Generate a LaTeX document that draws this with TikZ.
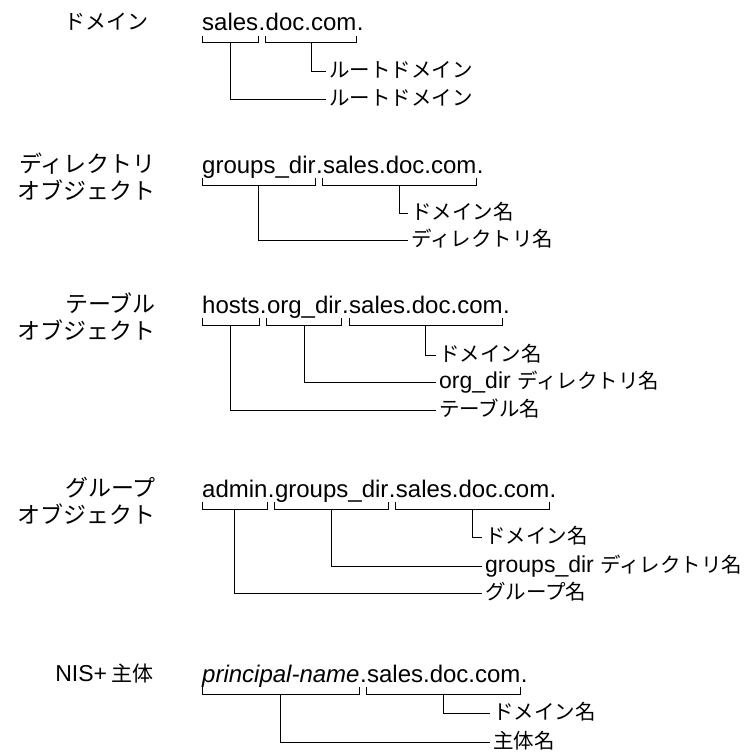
\documentclass[tikz,border=0pt]{standalone}
\usepackage{fontspec}
\setmainfont{Liberation Sans}
\newfontfamily\jpfont{Noto Sans CJK JP}
\usetikzlibrary{positioning}
\tikzset{
    word/.style = {inner sep=0pt, anchor=base west, font=\fontsize{24}{26}\selectfont},
    side/.style = {inner sep=0pt, anchor=base east, font=\jpfont\fontsize{23}{24}\selectfont},
    sides/.style = {side, font=\jpfont\fontsize{21}{24}\selectfont},
    lbl/.style = {inner sep=3pt, anchor=base west, text height=14pt, text depth=2pt, font=\fontsize{23}{24}\selectfont},
    brk/.style = {line width=1pt, black},
    conn/.style = {line width=1pt, black},
}
% japanese part of a label
\newcommand{\ja}[1]{{\jpfont\fontsize{20.5}{24}\selectfont #1}}
% bracket under one part of a name
\newcommand{\brk}[1]{%
  \draw[brk] ([yshift=-5pt]#1.base west) -- ([yshift=-12pt]#1.base west)
    -- ([yshift=-12pt]#1.base east) -- ([yshift=-5pt]#1.base east);
  \coordinate (#1m) at ([yshift=-12pt]#1.base);}
\begin{document}
\begin{tikzpicture}[x=1pt, y=-1pt]
\useasboundingbox (0,0) rectangle (747,754);
% ---- domain
\node[sides] (s1) at (149,30) {ドメイン};
\node[word] (r1a) at (202,31) {sales};
\node[word] (r1d1) at (r1a.base east) {.};
\node[word] (r1b) at (r1d1.base east) {doc.com};
\node[word] (r1d2) at (r1b.base east) {.};
\brk{r1a} \brk{r1b}
\node[lbl] (r1lb) at (326,78) {\ja{ルートドメイン}};
\node[lbl] (r1la) at (326,106) {\ja{ルートドメイン}};
\draw[conn] (r1bm) |- (r1lb.west);
\draw[conn] (r1am) |- (r1la.west);
% ---- directory object
\node[side] (s2a) at (156,172) {ディレクトリ};
\node[side] (s2b) at (156,199) {オブジェクト};
\node[word] (r2a) at (202,173) {groups\_dir};
\node[word] (r2d1) at (r2a.base east) {.};
\node[word] (r2b) at (r2d1.base east) {sales.doc.com};
\node[word] (r2d2) at (r2b.base east) {.};
\brk{r2a} \brk{r2b}
\node[lbl] (r2lb) at (408,219) {\ja{ドメイン名}};
\node[lbl] (r2la) at (408,246) {\ja{ディレクトリ名}};
\draw[conn] (r2bm) |- (r2lb.west);
\draw[conn] (r2am) |- (r2la.west);
% ---- table object
\node[side] (s3a) at (156,312) {テーブル};
\node[side] (s3b) at (156,339) {オブジェクト};
\node[word] (r3a) at (202,313) {hosts};
\node[word] (r3d1) at (r3a.base east) {.};
\node[word] (r3b) at (r3d1.base east) {org\_dir};
\node[word] (r3d2) at (r3b.base east) {.};
\node[word] (r3c) at (r3d2.base east) {sales.doc.com};
\node[word] (r3d3) at (r3c.base east) {.};
\brk{r3a} \brk{r3b} \brk{r3c}
\node[lbl] (r3lc) at (436,361) {\ja{ドメイン名}};
\node[lbl] (r3lb) at (436,388) {org\_dir \ja{ディレクトリ名}};
\node[lbl] (r3la) at (436,416) {\ja{テーブル名}};
\draw[conn] (r3cm) |- (r3lc.west);
\draw[conn] (r3bm) |- (r3lb.west);
\draw[conn] (r3am) |- (r3la.west);
% ---- group object
\node[side] (s4a) at (156,496) {グループ};
\node[side] (s4b) at (156,523) {オブジェクト};
\node[word] (r4a) at (202,497) {admin};
\node[word] (r4d1) at (r4a.base east) {.};
\node[word] (r4b) at (r4d1.base east) {groups\_dir};
\node[word] (r4d2) at (r4b.base east) {.};
\node[word] (r4c) at (r4d2.base east) {sales.doc.com};
\node[word] (r4d3) at (r4c.base east) {.};
\brk{r4a} \brk{r4b} \brk{r4c}
\node[lbl] (r4lc) at (482,543) {\ja{ドメイン名}};
\node[lbl] (r4lb) at (482,572) {groups\_dir \ja{ディレクトリ名}};
\node[lbl] (r4la) at (482,599) {\ja{グループ名}};
\draw[conn] (r4cm) |- (r4lc.west);
\draw[conn] (r4bm) |- (r4lb.west);
\draw[conn] (r4am) |- (r4la.west);
% ---- NIS+ principal
\node[sides] (s5) at (154,681) {{\rmfamily\fontsize{23}{24}\selectfont NIS+} 主体};
\node[word] (r5a) at (202,682) {\itshape principal-name};
\node[word] (r5d1) at (r5a.base east) {.};
\node[word] (r5b) at (r5d1.base east) {sales.doc.com};
\node[word] (r5d2) at (r5b.base east) {.};
\brk{r5a} \brk{r5b}
\node[lbl] (r5lb) at (490,719) {\ja{ドメイン名}};
\node[lbl] (r5la) at (490,748) {\ja{主体名}};
\draw[conn] (r5bm) |- (r5lb.west);
\draw[conn] (r5am) |- (r5la.west);
\end{tikzpicture}
\end{document}
